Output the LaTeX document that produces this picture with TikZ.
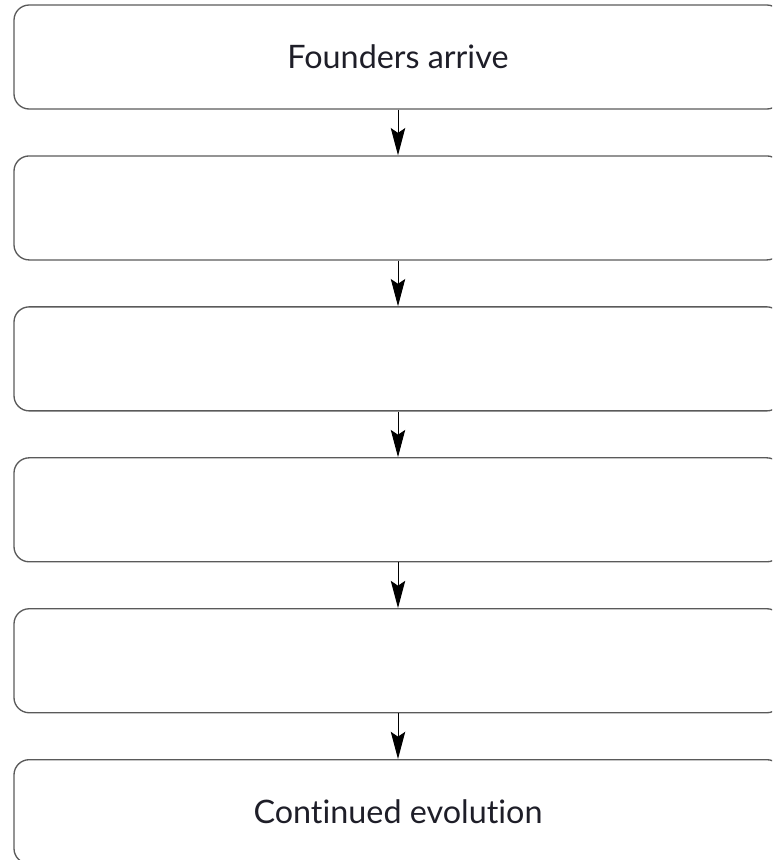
\documentclass[tikz,border=0pt]{standalone}
\usepackage{fontspec}
\setmainfont{Lato}[Ligatures=NoCommon]
\usetikzlibrary{arrows.meta, positioning}
\definecolor{stageInk}{RGB}{90,90,90}
\definecolor{textInk}{RGB}{30,30,40}

\begin{document}
\begin{tikzpicture}[font=\fontsize{23}{27}\selectfont,
  stagebox/.style={draw=stageInk,line width=0.95pt,rounded corners=3.8mm,
                   minimum width=192mm,minimum height=26mm,
                   text=textInk,inner sep=0pt},
  arr/.style={-{Stealth[length=6.8mm,width=3.6mm,inset=1.2mm]},line width=0.7pt,draw=black}]

% ===== frame (boxes run past the right and lower edges) =====
\path[use as bounding box,clip] (0,0) rectangle (19.3,-21.5);

% ===== stages, top to bottom =====
\node[stagebox] (st1) at (9.95,-1.425) {Founders arrive};
\node[stagebox,below=11.4mm of st1] (st2) {};
\node[stagebox,below=11.4mm of st2] (st3) {};
\node[stagebox,below=11.4mm of st3] (st4) {};
\node[stagebox,below=11.4mm of st4] (st5) {};
\node[stagebox,below=11.4mm of st5] (st6) {Continued evolution};

% Arrows between stages
\foreach \a/\b in {st1/st2,st2/st3,st3/st4,st4/st5,st5/st6}
  \draw[arr] (\a.south) -- (\b.north);
\end{tikzpicture}
\end{document}
